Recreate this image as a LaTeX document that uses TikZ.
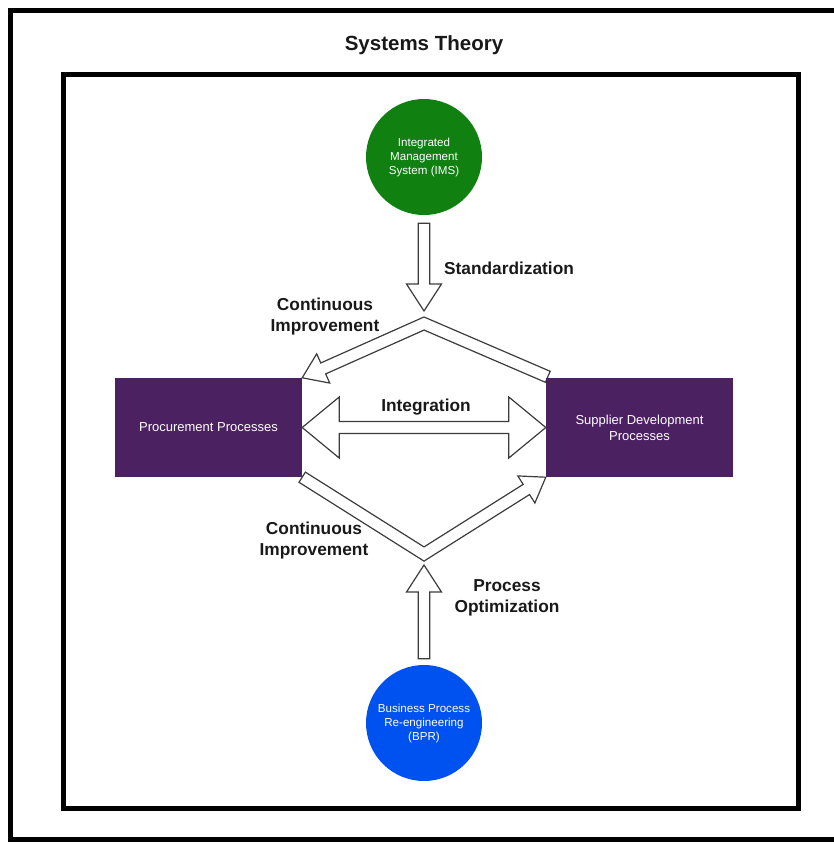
\documentclass[tikz,border=0pt]{standalone}
\usepackage{fontspec}
\setmainfont{Liberation Sans}
\usetikzlibrary{calc}
\definecolor{imsgreen}{RGB}{16,128,16}
\definecolor{bprblue}{RGB}{0,82,240}
\definecolor{procpurple}{RGB}{76,33,97}
\definecolor{arrowline}{RGB}{60,60,60}
\pgfdeclarelayer{arrows}
\pgfsetlayers{arrows,main}

% straight block arrow: #1 prefix, #2 start, #3 tip
\newcommand{\straightblock}[3]{%
  \coordinate (#1B) at ($(#3)!27pt!(#2)$);
  \draw[blockarrow]
    ($(#2)!5.8pt!90:(#3)$) -- ($(#1B)!5.8pt!90:(#3)$) -- ($(#1B)!17.5pt!90:(#3)$) -- (#3)
    -- ($(#1B)!17.5pt!-90:(#3)$) -- ($(#1B)!5.8pt!-90:(#3)$) -- ($(#2)!5.8pt!-90:(#3)$) -- cycle;
}
% bent block arrow: #1 prefix, #2 start, #3 bend, #4 tip
\newcommand{\bentblock}[4]{%
  \coordinate (#1B) at ($(#4)!23pt!(#3)$);
  \coordinate (#1a1) at ($(#2)!6pt!90:(#3)$);
  \coordinate (#1a2) at ($(#2)!6pt!-90:(#3)$);
  \coordinate (#1m1) at ($(#3)!6pt!-90:(#2)$);
  \coordinate (#1m2) at ($(#3)!6pt!90:(#2)$);
  \coordinate (#1n1) at ($(#3)!6pt!90:(#4)$);
  \coordinate (#1n2) at ($(#3)!6pt!-90:(#4)$);
  \coordinate (#1b1) at ($(#1B)!6pt!90:(#4)$);
  \coordinate (#1b2) at ($(#1B)!6pt!-90:(#4)$);
  \coordinate (#1h1) at ($(#1B)!16pt!90:(#4)$);
  \coordinate (#1h2) at ($(#1B)!16pt!-90:(#4)$);
  \coordinate (#1x1) at (intersection of #1a1--#1m1 and #1n1--#1b1);
  \coordinate (#1x2) at (intersection of #1a2--#1m2 and #1n2--#1b2);
  \draw[blockarrow] (#1a1) -- (#1x1) -- (#1b1) -- (#1h1) -- (#4) -- (#1h2)
    -- (#1b2) -- (#1x2) -- (#1a2) -- cycle;
}

\begin{document}
\begin{tikzpicture}[x=1pt,y=-1pt,
  frame/.style={draw=black,line width=5pt},
  circ/.style={circle,minimum size=116pt,inner sep=0pt,text=white,align=center,
    font=\fontsize{11.6}{14}\selectfont},
  procbox/.style={fill=procpurple,minimum width=187pt,minimum height=99pt,inner sep=0pt,
    text=white,align=center,font=\fontsize{13}{16}\selectfont},
  lbl/.style={align=center,font=\bfseries\fontsize{17.3}{21}\selectfont,text=black!90},
  blockarrow/.style={draw=arrowline,line width=1.2pt,fill=white,line join=miter}
]
\useasboundingbox (0,0) rectangle (834,844);
\clip (0,0) rectangle (834,844);

% frames
\draw[frame] (10,10) rectangle (842,839);
\draw[frame] (63,74) rectangle (798,808);

% title
\node[font=\bfseries\fontsize{20.5}{24}\selectfont,text=black!90] (title) at (424,45) {Systems Theory};

% main nodes
\node[circ,fill=imsgreen] (ims) at (424,157) {Integrated\\Management\\System (IMS)};
\node[circ,fill=bprblue] (bpr) at (424,723) {Business Process\\Re-engineering\\(BPR)};
\node[procbox] (proc) at (208.5,427.5) {Procurement Processes};
\node[procbox] (sup) at (639.5,427.5) {Supplier Development\\Processes};

% anchor points of the block arrows
\coordinate (stdS) at ($(ims.south)+(0,8)$);
\coordinate (stdT) at (424,311);
\coordinate (optS) at ($(bpr.north)+(0,-6)$);
\coordinate (optT) at (424,565);
\coordinate (topS) at ($(sup.north west)+(2,-1)$);
\coordinate (topM) at (424,323.5);
\coordinate (topT) at (proc.north east);
\coordinate (botS) at (proc.south east);
\coordinate (botM) at (424,554);
\coordinate (botT) at (sup.south west);
\coordinate (intL) at (proc.east);
\coordinate (intR) at (sup.west);

% block arrows sit beneath the boxes
\begin{pgfonlayer}{arrows}
  \straightblock{std}{stdS}{stdT}
  \straightblock{opt}{optS}{optT}
  \bentblock{top}{topS}{topM}{topT}
  \bentblock{bot}{botS}{botM}{botT}
  % two-headed integration arrow
  \draw[blockarrow] (intL) -- ($(intL)+(37,-30.5)$) -- ($(intL)+(37,-6)$)
    -- ($(intR)+(-37,-6)$) -- ($(intR)+(-37,-30.5)$) -- (intR)
    -- ($(intR)+(-37,30.5)$) -- ($(intR)+(-37,6)$) -- ($(intL)+(37,6)$)
    -- ($(intL)+(37,30.5)$) -- cycle;
\end{pgfonlayer}

% labels
\node[lbl] (lstd) at (509,268) {Standardization};
\node[lbl] (lcitop) at (325,317) {Continuous\\Improvement};
\node[lbl] (lint) at (426,407) {Integration};
\node[lbl] (lcibot) at (314,541) {Continuous\\Improvement};
\node[lbl] (lopt) at (507,598) {Process\\Optimization};
\end{tikzpicture}
\end{document}
